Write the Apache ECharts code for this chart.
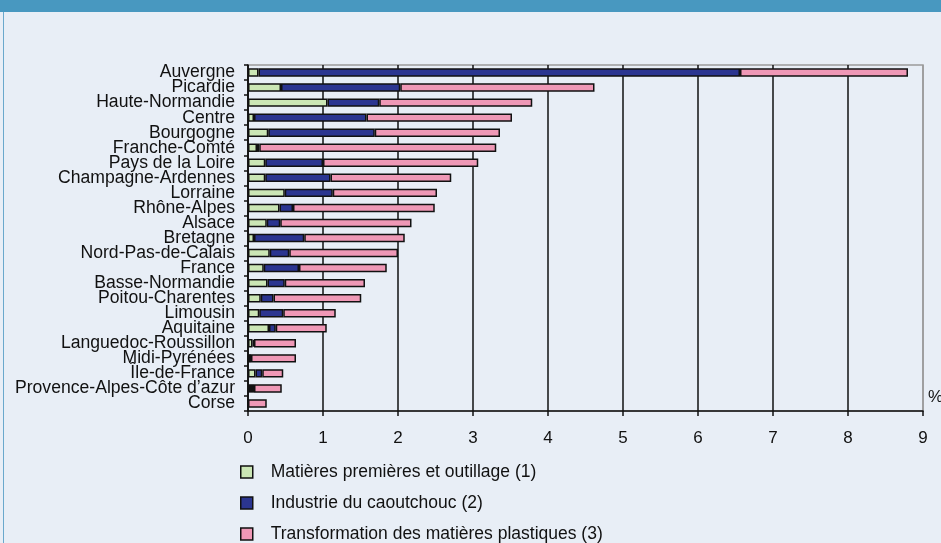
<!DOCTYPE html>
<html>
<head>
<meta charset="utf-8">
<script src="https://cdn.jsdelivr.net/npm/echarts@6/dist/echarts.min.js"></script>
<style>
  html, body { margin: 0; padding: 0; }
  body { width: 941px; height: 543px; background: #e8eef6; position: relative; overflow: hidden; }
  .header { position: absolute; left: 0; top: 0; width: 941px; height: 12px; background: #4898c0; }
  .frame { position: absolute; left: 3px; top: 12px; width: 0; height: 531px; border-left: 1.5px solid #6aa8cc; }
  #chart { position: absolute; left: 0; top: 0; width: 941px; height: 543px; }
</style>
</head>
<body>
<div class="header"></div>
<div class="frame"></div>
<div id="chart"></div>
<script>
const regions = [
  'Auvergne', 'Picardie', 'Haute-Normandie', 'Centre', 'Bourgogne', 'Franche-Comté',
  'Pays de la Loire', 'Champagne-Ardennes', 'Lorraine', 'Rhône-Alpes', 'Alsace',
  'Bretagne', 'Nord-Pas-de-Calais', 'France', 'Basse-Normandie', 'Poitou-Charentes',
  'Limousin', 'Aquitaine', 'Languedoc-Roussillon', 'Midi-Pyrénées', 'Île-de-France',
  'Provence-Alpes-Côte d’azur', 'Corse'
]

// (1) Matières premières et outillage
const matieres = [0.14, 0.44, 1.06, 0.08, 0.27, 0.12, 0.23, 0.23, 0.49, 0.42, 0.25,
  0.08, 0.29, 0.21, 0.26, 0.17, 0.15, 0.28, 0.06, 0.01, 0.10, 0.04, 0]
// (2) Industrie du caoutchouc
const caoutchouc = [6.42, 1.59, 0.69, 1.50, 1.42, 0.03, 0.77, 0.87, 0.64, 0.18, 0.18,
  0.67, 0.26, 0.47, 0.23, 0.17, 0.32, 0.09, 0.02, 0.03, 0.09, 0.04, 0]
// (3) Transformation des matières plastiques
const plastiques = [2.24, 2.59, 2.04, 1.94, 1.67, 3.16, 2.07, 1.61, 1.39, 1.89, 1.75,
  1.34, 1.45, 1.17, 1.07, 1.17, 0.70, 0.68, 0.56, 0.60, 0.28, 0.37, 0.25]

const seriesNames = [
  'Matières premières et outillage (1)',
  'Industrie du caoutchouc (2)',
  'Transformation des matières plastiques (3)'
]
const colors = ['#cbe6b5', '#2b3590', '#ef98b6']
const legendTops = [463, 494, 525]

const chart = echarts.init(document.getElementById('chart'))

const font = 'Liberation Sans, Arial, sans-serif'

// vertical grid lines black, the last one (at 9) grey like the frame
const splitColors = ['#000', '#111', '#111', '#111', '#111', '#111', '#111', '#111', '#111', '#9a9a9a']

const option = {
  backgroundColor: 'transparent',
  animation: false,
  textStyle: { fontFamily: font },
  grid: {
    left: 248,
    right: 18,
    top: 65,
    bottom: 132,
    show: true,
    borderColor: '#9a9a9a',
    borderWidth: 1.5,
    backgroundColor: 'transparent'
  },
  // one legend per row, stacked like the original
  legend: seriesNames.map((name, i) => ({
    orient: 'vertical',
    left: 240,
    top: legendTops[i],
    padding: 0,
    itemWidth: 12,
    itemHeight: 12,
    icon: 'rect',
    selectedMode: false,
    textStyle: { fontFamily: font, fontSize: 17.5, color: '#111', padding: [0, 0, 0, 13] },
    itemStyle: { borderColor: '#111', borderWidth: 1.5 },
    data: [name]
  })),
  xAxis: {
    type: 'value',
    min: 0,
    max: 9,
    interval: 1,
    axisLine: { show: true, lineStyle: { color: '#111', width: 1.5 } },
    axisTick: { show: true, length: 5, lineStyle: { color: '#111', width: 1.5 } },
    axisLabel: { color: '#111', fontSize: 17, margin: 19, fontFamily: font },
    splitLine: { show: true, lineStyle: { color: splitColors, width: 1.5 } }
  },
  yAxis: {
    type: 'category',
    inverse: true,
    data: regions,
    axisLine: { show: true, lineStyle: { color: '#111', width: 1.5 } },
    axisTick: { show: true, length: 4, lineStyle: { color: '#111', width: 1.5 } },
    axisLabel: { color: '#111', fontSize: 17.6, lineHeight: 15, margin: 13, interval: 0, fontFamily: font },
    splitLine: { show: false }
  },
  graphic: [
    {
      type: 'text',
      left: 928,
      top: 389,
      style: { text: '%', fill: '#111', font: '17px ' + font }
    }
  ],
  series: [matieres, caoutchouc, plastiques].map((d, i) => ({
    name: seriesNames[i],
    type: 'bar',
    stack: 'total',
    data: d,
    barWidth: '56%',
    itemStyle: { color: colors[i], borderColor: '#111', borderWidth: 1.5 }
  }))
}

chart.setOption(option)
</script>
</body>
</html>
